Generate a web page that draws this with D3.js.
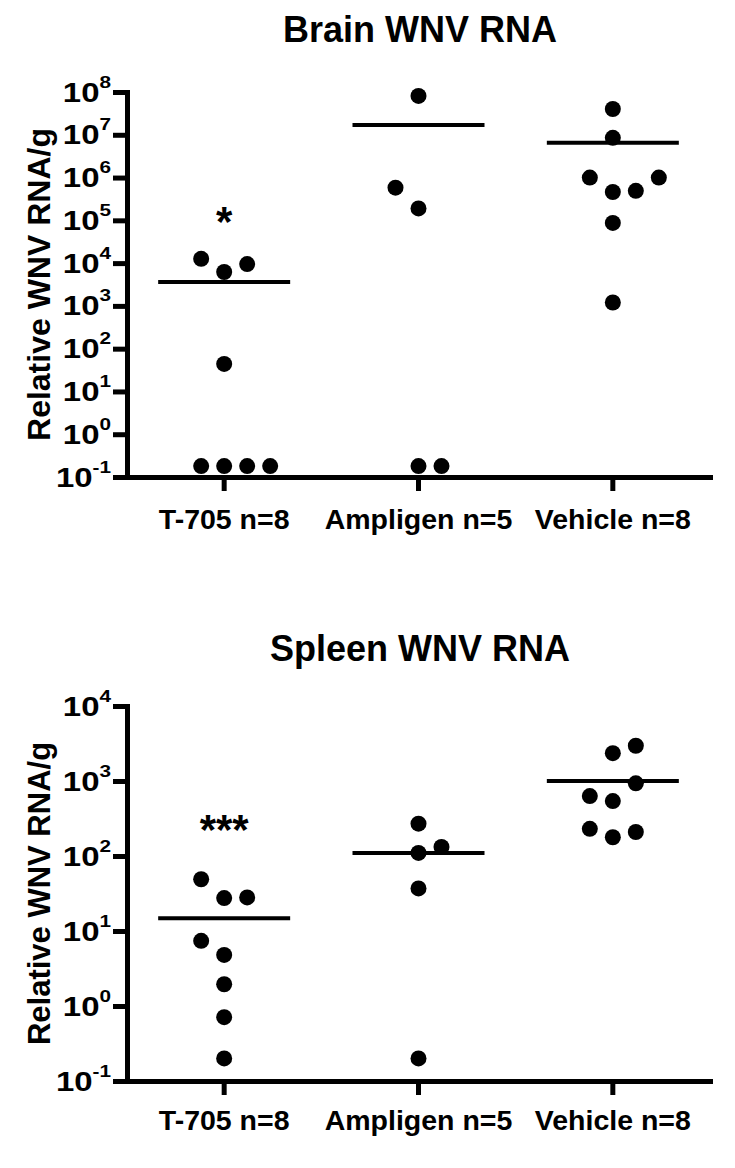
<!DOCTYPE html>
<html>
<head>
<meta charset="utf-8">
<script src="https://cdn.jsdelivr.net/npm/d3@7/dist/d3.min.js"></script>
<style>
  html, body { margin: 0; padding: 0; background: #fff; }
  svg { display: block; }
  text { font-family: "Liberation Sans", Arial, sans-serif; font-weight: bold; fill: #000; }
</style>
</head>
<body>
<svg id="chart" width="735" height="1168"></svg>
<script>
// ---------------- DATA ----------------
const groups = ["T-705 n=8", "Ampligen n=5", "Vehicle n=8"];
const yTickExpBrain = [-1, 0, 1, 2, 3, 4, 5, 6, 7, 8];
const yTickExpSpleen = [-1, 0, 1, 2, 3, 4];

const brainTitle = "Brain WNV RNA";
const brainT705 = [12600, 6200, 9500, 44, 0.18, 0.18, 0.18, 0.18];
const brainT705Cols = [-1, 0, 1, 0, -1, 0, 1, 2];
const brainAmpligen = [8.1e7, 5.8e5, 1.9e5, 0.18, 0.18];
const brainAmpligenCols = [0, -1, 0, 0, 1];
const brainVehicle = [4.0e7, 8.5e6, 1.0e6, 1.0e6, 4.6e5, 4.9e5, 8.7e4, 1.2e3];
const brainVehicleCols = [0, 0, -1, 2, 0, 1, 0, 0];
const brainMedians = [3600, 1.7e7, 6.5e6];
const brainStars = ["*", "", ""];
const brainStarLevel = [1.6e5, null, null];

const spleenTitle = "Spleen WNV RNA";
const spleenT705 = [49, 27.5, 28, 7.4, 4.8, 1.95, 0.71, 0.2];
const spleenT705Cols = [-1, 0, 1, -1, 0, 0, 0, 0];
const spleenAmpligen = [270, 110, 132, 37, 0.2];
const spleenAmpligenCols = [0, 0, 1, 0, 0];
const spleenVehicle = [2350, 2950, 930, 630, 540, 230, 178, 209];
const spleenVehicleCols = [0, 1, 1, -1, 0, -1, 0, 1];
const spleenMedians = [14.8, 110, 1000];
const spleenStars = ["***", "", ""];
const spleenStarLevel = [300, null, null];

const yLabel = "Relative WNV RNA/g";

// ---------------- DRAW ----------------
const svg = d3.select("#chart");

function drawPanel(cfg) {
  const g = svg.append("g");
  const x = d3.scaleBand().domain(groups).range([127, 710]);
  const y = d3.scaleLog().domain([Math.pow(10, cfg.exps[0]), Math.pow(10, cfg.exps[cfg.exps.length - 1])])
              .range([cfg.bottom, cfg.top]);
  const colStep = 23;
  const cx = gr => x(gr) + x.bandwidth() / 2;

  // title
  g.append("text").attr("x", 420).attr("y", cfg.titleY)
    .attr("text-anchor", "middle").attr("font-size", 36).text(cfg.title);

  // y axis
  const yAxis = d3.axisLeft(y).tickValues(cfg.exps.map(e => Math.pow(10, e)))
    .tickSize(14).tickSizeOuter(0).tickFormat("");
  const ya = g.append("g").attr("transform", "translate(127,0)").call(yAxis);
  ya.select(".domain").attr("stroke", "#000").attr("stroke-width", 5).attr("stroke-linecap", "square");
  ya.selectAll(".tick line").attr("stroke", "#000").attr("stroke-width", 5);

  // y tick labels (10^n)
  cfg.exps.forEach(e => {
    const t = g.append("g").attr("transform", `translate(111,${y(Math.pow(10, e))}) scale(1.22,1)`)
      .append("text").attr("text-anchor", "end").attr("y", 9.5).attr("font-size", 27);
    t.append("tspan").text("10");
    t.append("tspan").attr("dy", -14).attr("font-size", 17).text(String(e));
  });

  // x axis
  const xAxis = d3.axisBottom(x).tickSize(14).tickSizeOuter(0).tickFormat("");
  const xa = g.append("g").attr("transform", `translate(0,${cfg.bottom})`).call(xAxis);
  xa.select(".domain").attr("stroke", "#000").attr("stroke-width", 5).attr("stroke-linecap", "square");
  xa.selectAll(".tick line").attr("stroke", "#000").attr("stroke-width", 5);

  // x labels
  groups.forEach(gr => {
    g.append("text").attr("x", cx(gr)).attr("y", cfg.bottom + cfg.xLabelDy)
      .attr("text-anchor", "middle").attr("font-size", 28.5).text(gr);
  });

  // y label
  g.append("text")
    .attr("transform", `translate(50,${(cfg.top + cfg.bottom) / 2}) rotate(-90)`)
    .attr("text-anchor", "middle").attr("font-size", cfg.yLabelSize).text(yLabel);

  // points
  cfg.series.forEach((vals, i) => {
    const gr = groups[i];
    g.selectAll(null).data(vals.map((v, j) => ({ v, c: cfg.cols[i][j] }))).enter()
      .append("circle")
      .attr("cx", d => cx(gr) + d.c * colStep)
      .attr("cy", d => y(d.v))
      .attr("r", 8).attr("fill", "#000");
  });

  // medians
  g.selectAll(null).data(cfg.medians).enter().append("line")
    .attr("x1", (d, i) => cx(groups[i]) - 66)
    .attr("x2", (d, i) => cx(groups[i]) + 66)
    .attr("y1", d => y(d)).attr("y2", d => y(d))
    .attr("stroke", "#000").attr("stroke-width", 4);

  // stars
  cfg.stars.forEach((s, i) => {
    if (!s) return;
    g.append("text").attr("x", cx(groups[i])).attr("y", y(cfg.starLevel[i]) + 24)
      .attr("text-anchor", "middle").attr("font-size", 42).text(s);
  });
}

drawPanel({
  title: brainTitle, titleY: 42, top: 92, bottom: 477, exps: yTickExpBrain,
  series: [brainT705, brainAmpligen, brainVehicle],
  cols: [brainT705Cols, brainAmpligenCols, brainVehicleCols],
  medians: brainMedians, stars: brainStars, starLevel: brainStarLevel,
  xLabelDy: 52, yLabelSize: 32
});

drawPanel({
  title: spleenTitle, titleY: 661, top: 706, bottom: 1081, exps: yTickExpSpleen,
  series: [spleenT705, spleenAmpligen, spleenVehicle],
  cols: [spleenT705Cols, spleenAmpligenCols, spleenVehicleCols],
  medians: spleenMedians, stars: spleenStars, starLevel: spleenStarLevel,
  xLabelDy: 49, yLabelSize: 31
});
</script>
</body>
</html>
